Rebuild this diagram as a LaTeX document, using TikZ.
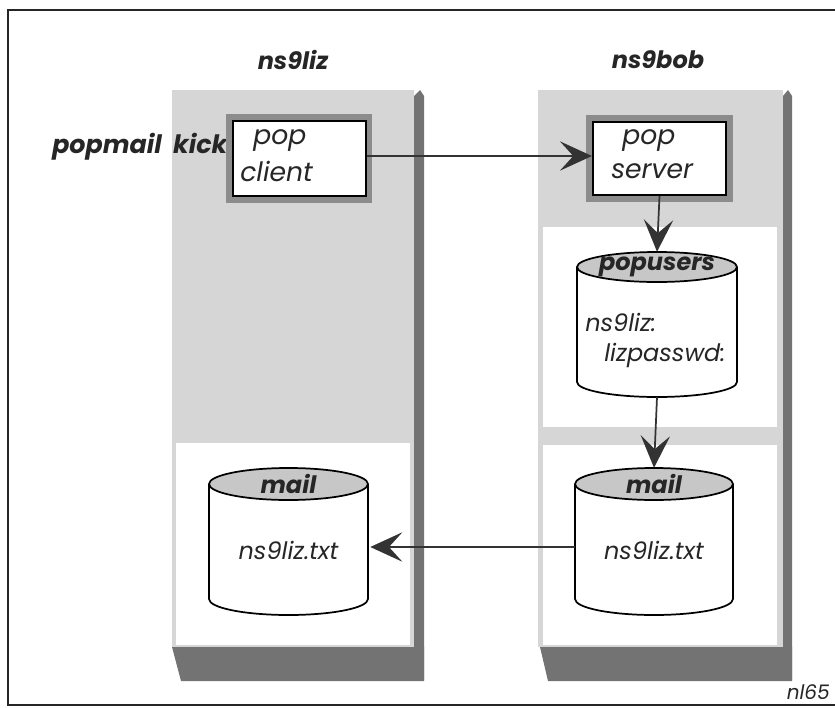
\documentclass[tikz,border=0pt]{standalone}
\usepackage{fontspec}
\setmainfont{Poppins}
\usetikzlibrary{arrows.meta}
\definecolor{panelgray}{gray}{0.84}
\definecolor{shadowgray}{gray}{0.45}
\definecolor{boxshadow}{gray}{0.55}
\definecolor{capgray}{gray}{0.78}
\tikzset{
  frameline/.style={line width=1.5pt, draw=black!85},
  panel/.style={fill=panelgray, draw=none},
  shade3d/.style={fill=shadowgray, draw=none},
  inset/.style={fill=white, draw=none},
  procbox/.style={draw=black, line width=1.6pt, fill=white, inner sep=0pt},
  boxshade/.style={fill=boxshadow, draw=none},
  cylbody/.style={draw=black, line width=1.3pt, fill=white},
  cylcap/.style={draw=black, line width=1.3pt, fill=capgray},
  hidden/.style={draw=none, inner sep=0pt},
  flow/.style={draw=black!80, line width=1.3pt, -{Stealth[length=24pt, width=22pt, inset=10pt]}},
  title/.style={font=\fontsize{18}{20}\selectfont\bfseries\itshape, text=black!85, inner sep=0pt},
  body/.style={font=\fontsize{20}{22}\selectfont\itshape, text=black!85, inner sep=0pt, anchor=west},
  dbtext/.style={font=\fontsize{18}{20}\selectfont\itshape, text=black!85, inner sep=0pt, anchor=west},
}
\begin{document}
\begin{tikzpicture}[x=0.75pt, y=-0.75pt]
\useasboundingbox (0,0) rectangle (835,707);
% outer frame
\draw[frameline] (835,10) -- (8,10) -- (8,705) -- (835,705);

% ---------- left column (ns9liz) ----------
\fill[panel] (172,90) rectangle (414,647);
\fill[shade3d] (414,96) -- (420,90) -- (424,96) -- (424,680) -- (414,680) -- cycle;
\fill[shade3d] (172,647) -- (424,647) -- (424,681) -- (181,681) -- cycle;
\fill[inset] (176,443) rectangle (410,645);

% ---------- right column (ns9bob) ----------
\fill[panel] (538,90) rectangle (783,647);
\fill[shade3d] (783,96) -- (788,90) -- (792,96) -- (792,680) -- (783,680) -- cycle;
\fill[shade3d] (540,647) -- (792,647) -- (792,681) -- (548,681) -- cycle;
\fill[inset] (543,227) rectangle (777,427);
\fill[inset] (543,445) rectangle (777,645);

% column titles
\node[title] (tliz) at (293,60) {ns9liz};
\node[title] (tbob) at (658,60) {ns9bob};

% popmail kick label
\node[title, anchor=west, font=\fontsize{19}{21}\selectfont\bfseries\itshape] (kick) at (52,147) {popmail\hspace{0.45em}kick};

% ---------- pop client ----------
\fill[boxshade] (226,114) rectangle (372,203);
\node[procbox, minimum width=133*0.75pt, minimum height=75*0.75pt] (pclient) at (299.5,158.5) {};
\node[body] (pc1) at (253,141) {pop};
\node[body] (pc2) at (240,171) {client};

% ---------- pop server ----------
\fill[boxshade] (586,115) rectangle (733,202);
\node[procbox, minimum width=133*0.75pt, minimum height=73*0.75pt] (pserver) at (659.5,158.5) {};
\node[body] (ps1) at (622,141) {pop};
\node[body] (ps2) at (611,171) {server};

% ---------- popusers cylinder ----------
\node[hidden, minimum width=160*0.75pt, minimum height=145*0.75pt] (popusers) at (657,324.5) {};
\path[cylbody] (577,267) -- (577,382) arc[start angle=180, end angle=0, x radius=80, y radius=15] -- (737,267);
\path[cylcap] (657,267) ellipse[x radius=80, y radius=15];
\node[title] (pu0) at (657,267) {popusers};
\node[dbtext] (pu1) at (585,322) {ns9liz:};
\node[dbtext] (pu2) at (604,355) {lizpasswd:};

% ---------- mail (ns9bob) ----------
\node[hidden, minimum width=158*0.75pt, minimum height=147*0.75pt] (mailbob) at (654,541.5) {};
\path[cylbody] (575,484) -- (575,599) arc[start angle=180, end angle=0, x radius=79, y radius=16] -- (733,484);
\path[cylcap] (654,484) ellipse[x radius=79, y radius=16];
\node[title] (mb0) at (654,484) {mail};
\node[dbtext, anchor=center] (mb1) at (654,550) {ns9liz.txt};

% ---------- mail (ns9liz) ----------
\node[hidden, minimum width=159*0.75pt, minimum height=147*0.75pt] (mailliz) at (288.5,541.5) {};
\path[cylbody] (209,484) -- (209,599) arc[start angle=180, end angle=0, x radius=79.5, y radius=16] -- (368,484);
\path[cylcap] (288.5,484) ellipse[x radius=79.5, y radius=16];
\node[title] (ml0) at (288.5,484) {mail};
\node[dbtext, anchor=center] (ml1) at (288.5,550) {ns9liz.txt};

% ---------- connectors ----------
\draw[flow] (pclient.east |- 0,156) -- (pserver.west |- 0,156);
\draw[flow] (pserver.south) -- (popusers.north);
\draw[flow] (popusers.south) -- (mailbob.north);
\draw[flow] (mailbob.west |- 0,547) -- ([xshift=2*0.75pt]mailliz.east |- 0,547);

% figure tag
\node[dbtext, font=\fontsize{15}{16}\selectfont\itshape, anchor=east] (tag) at (830,692) {nl65};
\end{tikzpicture}
\end{document}
